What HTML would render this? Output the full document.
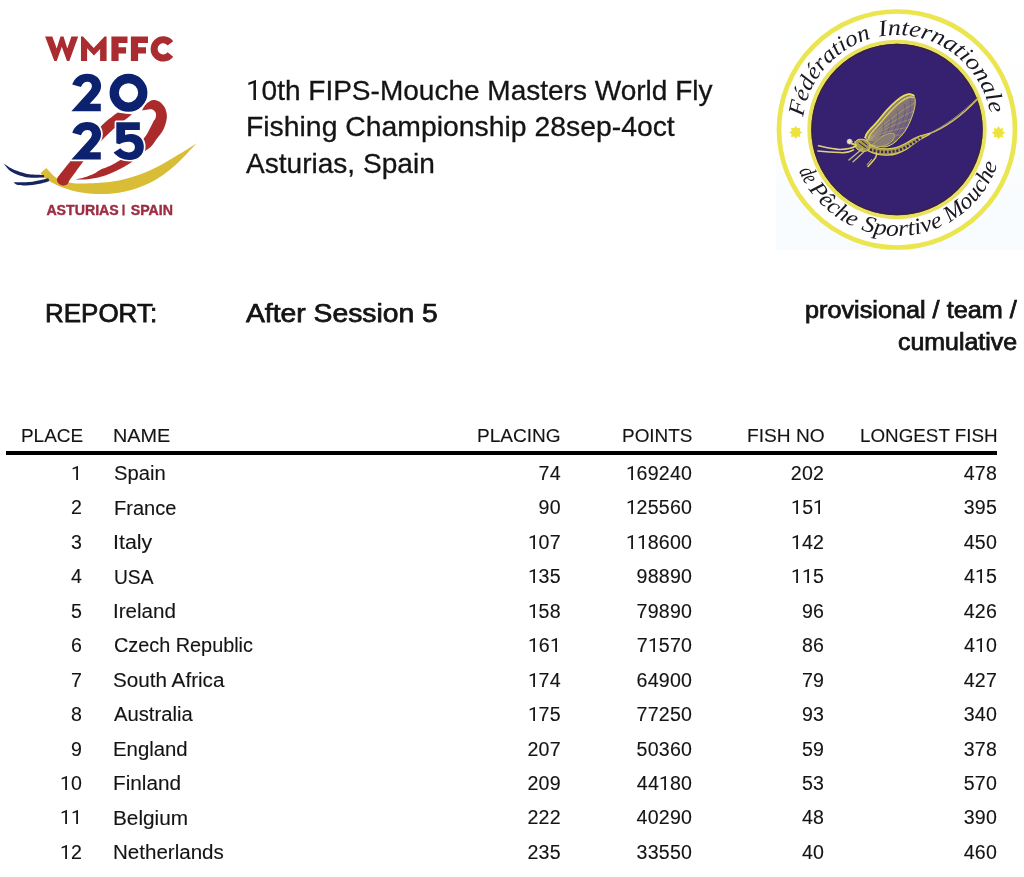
<!DOCTYPE html><html><head><meta charset="utf-8"><title>Report</title><style>
html,body{margin:0;padding:0;background:#fff;}
body{width:1024px;height:877px;overflow:hidden;position:relative;font-family:"Liberation Sans",sans-serif;color:#141414;}
.t{position:absolute;white-space:nowrap;line-height:1;transform-origin:0 0;}
.r{position:absolute;white-space:nowrap;line-height:1;text-align:right;letter-spacing:0.24px;margin-right:-0.24px;}
.m{-webkit-text-stroke:0.75px #141414;}
.b{-webkit-text-stroke:0.3px #141414;}
#txt{-webkit-text-stroke:0.12px #141414;}
.rule{position:absolute;left:6px;top:450.7px;width:991.2px;height:4.2px;background:#000;}
</style></head><body>
<svg width="1024" height="260" viewBox="0 0 1024 260" style="position:absolute;left:0;top:0;filter:blur(0.55px)">

<g fill="#aa2c30">
 <path d="M45.08 36.45 L52.25 36.45 L56.70 48.40 L60.46 36.45 L63.53 36.45 L67.29 48.40 L71.39 36.45 L78.23 36.45 L69.34 61.05 L66.95 61.05 L61.82 46.70 L56.70 61.05 L54.30 61.05 Z"/>
 <path d="M80.96 36.45 L83.01 36.45 L93.74 48.06 L104.54 36.45 L106.59 36.45 L106.59 61.05 L100.10 61.05 L100.10 48.88 L93.95 55.58 L87.11 48.20 L87.11 61.05 L80.96 61.05 Z"/>
 <path d="M111.4 36.45 H127.5 V43.1 H118.6 V47.2 H126.1 V53.5 H118.6 V61.05 H111.4 Z"/>
 <path d="M130.9 36.45 H148 V43.1 H138.1 V47.2 H146 V53.5 H138.1 V61.05 H130.9 Z"/>
 <path d="M170.4 43.3 A 9.1 9.1 0 1 0 170.4 54.5" fill="none" stroke="#aa2c30" stroke-width="7"/>
</g>
<path d="M46.30 168.00 C46.92 168.67 48.55 170.50 50.00 172.00 C51.45 173.50 53.08 175.63 55.00 177.00 C56.92 178.37 58.67 179.20 61.50 180.20 C64.33 181.20 68.58 182.43 72.00 183.00 C75.42 183.57 77.33 183.63 82.00 183.60 C86.67 183.57 94.92 183.13 100.00 182.80 C105.08 182.47 108.32 182.22 112.50 181.60 C116.68 180.98 120.92 180.15 125.10 179.10 C129.28 178.05 133.42 176.77 137.60 175.30 C141.78 173.83 146.02 172.18 150.20 170.30 C154.38 168.42 158.52 166.30 162.70 164.00 C166.88 161.70 171.12 159.00 175.30 156.50 C179.48 154.00 184.25 151.20 187.80 149.00 C191.35 146.80 195.13 144.25 196.60 143.30 C195.13 144.87 191.35 149.03 187.80 152.70 C184.25 156.37 179.48 161.53 175.30 165.30 C171.12 169.07 166.88 172.38 162.70 175.30 C158.52 178.22 154.38 180.70 150.20 182.80 C146.02 184.90 141.78 186.43 137.60 187.90 C133.42 189.37 129.28 190.67 125.10 191.60 C120.92 192.53 116.68 193.08 112.50 193.50 C108.32 193.92 104.58 194.18 100.00 194.10 C95.42 194.02 89.70 193.60 85.00 193.00 C80.30 192.40 75.97 191.58 71.80 190.50 C67.63 189.42 63.42 187.87 60.00 186.50 C56.58 185.13 53.80 183.72 51.30 182.30 C48.80 180.88 46.82 179.52 45.00 178.00 C43.18 176.48 41.17 174.00 40.40 173.20 C41.38 172.33 45.32 168.87 46.30 168.00 Z" fill="#dabd36"/>
<path d="M3.60 163.60 C4.67 164.28 7.67 166.48 10.00 167.70 C12.33 168.92 14.38 169.82 17.60 170.90 C20.82 171.98 24.92 173.53 29.30 174.20 C33.68 174.87 41.47 174.78 43.90 174.90 C43.98 175.35 44.32 177.15 44.40 177.60 C41.83 177.60 33.57 178.13 29.00 177.60 C24.43 177.07 20.28 175.63 17.00 174.40 C13.72 173.17 11.53 172.00 9.30 170.20 C7.07 168.40 4.55 164.70 3.60 163.60 Z" fill="#17245e"/>
<path d="M13.60 182.20 C16.22 182.18 24.73 182.45 29.30 182.10 C33.87 181.75 37.85 180.75 41.00 180.10 C44.15 179.45 47.00 178.52 48.20 178.20 C48.40 178.65 49.20 180.45 49.40 180.90 C48.05 181.32 44.62 182.68 41.30 183.40 C37.98 184.12 33.38 184.92 29.50 185.20 C25.62 185.48 20.65 185.60 18.00 185.10 C15.35 184.60 14.33 182.68 13.60 182.20 Z" fill="#17245e"/>
<path d="M58.00 176.80 C60.05 174.25 65.80 166.97 70.30 161.50 C74.80 156.03 79.72 150.05 85.00 144.00 C90.28 137.95 96.57 130.43 102.00 125.20 C107.43 119.97 115.00 114.70 117.60 112.60 C120.00 112.92 129.60 114.18 132.00 114.50 C129.50 116.42 121.92 121.82 117.00 126.00 C112.08 130.18 106.67 135.52 102.50 139.60 C98.33 143.68 95.22 146.85 92.00 150.50 C88.78 154.15 87.02 156.43 83.20 161.50 C79.38 166.57 71.45 177.67 69.10 180.90 C68.75 181.52 68.10 183.82 67.00 184.60 C65.90 185.38 63.90 185.77 62.50 185.60 C61.10 185.43 59.53 184.53 58.60 183.60 C57.67 182.67 57.00 181.13 56.90 180.00 C56.80 178.87 57.82 177.33 58.00 176.80 Z" fill="#ab2b2c"/>
<path d="M142.05 110.40 C142.51 109.60 143.78 106.97 144.80 105.60 C145.83 104.23 146.78 103.12 148.20 102.20 C149.62 101.28 151.42 100.18 153.30 100.10 C155.18 100.02 157.62 100.50 159.50 101.70 C161.38 102.90 163.37 105.00 164.60 107.30 C165.83 109.60 166.73 112.77 166.90 115.50 C167.07 118.23 166.32 121.13 165.60 123.70 C164.88 126.27 163.97 128.50 162.60 130.90 C161.23 133.30 159.28 135.53 157.40 138.10 C155.52 140.67 153.35 144.17 151.30 146.30 C149.25 148.43 146.77 149.75 145.10 150.90 C143.43 152.05 142.65 152.15 141.30 153.20 C139.95 154.25 138.38 155.93 137.00 157.20 C135.62 158.47 134.03 159.88 133.00 160.80 C131.97 161.72 132.88 161.37 130.80 162.70 C128.72 164.03 123.92 167.00 120.50 168.80 C117.08 170.60 113.72 172.12 110.30 173.50 C106.88 174.88 103.72 176.08 100.00 177.05 C96.28 178.02 92.07 178.89 88.00 179.30 C83.93 179.71 77.67 179.47 75.60 179.50 C77.17 179.13 81.97 178.25 85.00 177.30 C88.03 176.35 91.30 175.03 93.80 173.80 C96.30 172.57 97.25 171.23 100.00 169.90 C102.75 168.57 107.05 167.35 110.30 165.80 C113.55 164.25 116.55 162.40 119.50 160.60 C122.45 158.80 125.50 156.93 128.00 155.00 C130.50 153.07 132.50 150.92 134.50 149.00 C136.50 147.08 138.40 145.32 140.00 143.50 C141.60 141.68 142.73 140.03 144.10 138.10 C145.47 136.17 146.67 134.63 148.20 131.90 C149.73 129.17 152.10 123.92 153.30 121.70 C154.50 119.48 154.97 119.97 155.40 118.60 C155.83 117.23 156.25 114.95 155.90 113.50 C155.55 112.05 154.58 110.58 153.30 109.90 C152.02 109.22 150.07 109.32 148.20 109.40 C146.32 109.48 143.08 110.23 142.05 110.40 Z" fill="#ab2b2c"/>
<g fill="#0c226f" stroke="#ffffff" stroke-width="3.4" paint-order="stroke" stroke-linejoin="round">
 <path d="M71.4 111.2 L100.8 111.2 L100.8 103.85 L89.7 103.85 L96.8 95.9 C99.4 92.9 101.1 89.9 101.1 85.8 C101.1 78.6 95.3 73.75 87 73.75 C80 73.75 75 77.3 72.2 84.4 L81 86.9 C82.3 83.6 84.6 81.7 87.6 81.7 C90.1 81.7 91.9 83.4 91.9 86 C91.9 88.2 90.7 90 88.1 92.7 Z"/>
 <circle cx="128.5" cy="92.8" r="14.3" fill="none" stroke="#ffffff" stroke-width="12.7"/>
 <path d="M71.4 111.2 L100.8 111.2 L100.8 103.85 L89.7 103.85 L96.8 95.9 C99.4 92.9 101.1 89.9 101.1 85.8 C101.1 78.6 95.3 73.75 87 73.75 C80 73.75 75 77.3 72.2 84.4 L81 86.9 C82.3 83.6 84.6 81.7 87.6 81.7 C90.1 81.7 91.9 83.4 91.9 86 C91.9 88.2 90.7 90 88.1 92.7 Z" transform="translate(0,48.3)"/>
 <path d="M116.3 122.3 H139.85 V129.95 H125.1 V134.9 C127 134.3 129 134 131.3 134 C138.6 134 143.85 139.2 143.85 146.65 C143.85 154.5 138.2 159.9 129.6 159.9 C122.8 159.9 117.6 157 113.6 152.4 L120.4 148.3 C122.6 150.9 125.6 152.4 128.9 152.4 C132.5 152.4 134.9 150.3 134.9 147 C134.9 143.8 132.4 141.7 128.5 141.7 C125 141.7 121.6 142.8 119.5 144.3 L116.3 143.2 Z"/>
</g>
<circle cx="128.5" cy="92.8" r="14.3" fill="none" stroke="#0c226f" stroke-width="9.3"/>
<g font-family="Liberation Sans, sans-serif" font-weight="bold" font-size="14.1" fill="#9c2d42" stroke="#9c2d42" stroke-width="0.4">
<text x="46.4" y="215" textLength="72.4" lengthAdjust="spacingAndGlyphs">ASTURIAS</text>
<text x="130.7" y="215" textLength="42.2" lengthAdjust="spacingAndGlyphs">SPAIN</text>
<rect x="122.4" y="204.6" width="2.2" height="10.9" stroke="none"/>
</g>


<defs>
<linearGradient id="lg" x1="0" y1="0" x2="0" y2="1"><stop offset="0" stop-color="#ffffff"/><stop offset="0.45" stop-color="#fdfeff"/><stop offset="1" stop-color="#f7fbfe"/></linearGradient>
<linearGradient id="wg" x1="0.2" y1="0.1" x2="0.9" y2="0.8"><stop offset="0" stop-color="#c9ba52"/><stop offset="0.3" stop-color="#8f816f"/><stop offset="1" stop-color="#65568a"/></linearGradient>
<path id="tw0" d="M 803.35 116.84 A 94.5 94.5 0 0 1 870.95 38.66"/><path id="tw1" d="M 879.29 36.67 A 94.5 94.5 0 0 1 990.12 113.42"/><path id="bw0" d="M 798.75 170.60 A 106.5 106.5 0 0 0 806.10 184.99"/><path id="bw1" d="M 808.50 188.75 A 106.5 106.5 0 0 0 854.02 226.94"/><path id="bw2" d="M 860.75 229.64 A 106.5 106.5 0 0 0 943.69 225.22"/><path id="bw3" d="M 949.28 222.28 A 106.5 106.5 0 0 0 997.58 164.52"/>
</defs>
<rect x="776" y="6" width="248" height="243.5" fill="url(#lg)"/>
<circle cx="897.0" cy="129.5" r="118" fill="#ffffff"/>
<circle cx="897.0" cy="129.5" r="118" fill="none" stroke="#ebe550" stroke-width="4.7"/>
<circle cx="897.0" cy="129.5" r="89.7" fill="#e9e25a"/>
<circle cx="897.0" cy="129.5" r="85.7" fill="#362170"/><circle cx="897.0" cy="129.5" r="85.1" fill="none" stroke="#3b2433" stroke-width="1.3" opacity="0.85"/>
<g font-family="Liberation Serif, serif" font-style="italic" font-size="23" fill="#1a1820">
<text><textPath href="#tw0" textLength="109.4" lengthAdjust="spacingAndGlyphs">Fédération</textPath></text><text><textPath href="#tw1" textLength="150.1" lengthAdjust="spacingAndGlyphs">Internationale</textPath></text><text><textPath href="#bw0" textLength="16.2" lengthAdjust="spacingAndGlyphs">de</textPath></text><text><textPath href="#bw1" textLength="60.2" lengthAdjust="spacingAndGlyphs">Pêche</textPath></text><text><textPath href="#bw2" textLength="85.3" lengthAdjust="spacingAndGlyphs">Sportive</textPath></text><text><textPath href="#bw3" textLength="77.0" lengthAdjust="spacingAndGlyphs">Mouche</textPath></text>
</g>
<g fill="#ece43c">
 <path d="M795.70 125.80 L797.38 128.33 L800.37 127.73 L799.77 130.72 L802.30 132.40 L799.77 134.08 L800.37 137.07 L797.38 136.47 L795.70 139.00 L794.02 136.47 L791.03 137.07 L791.63 134.08 L789.10 132.40 L791.63 130.72 L791.03 127.73 L794.02 128.33 Z"/>
 <path d="M998.50 126.10 L1000.18 128.63 L1003.17 128.03 L1002.57 131.02 L1005.10 132.70 L1002.57 134.38 L1003.17 137.37 L1000.18 136.77 L998.50 139.30 L996.82 136.77 L993.83 137.37 L994.43 134.38 L991.90 132.70 L994.43 131.02 L993.83 128.03 L996.82 128.63 Z"/>
</g>
<g fill="none" stroke="#dccf5c" stroke-linecap="round" stroke-linejoin="round">
 <path d="M865.20 137.50 C865.67 136.57 865.97 134.55 868.00 131.90 C870.03 129.25 874.28 125.18 877.40 121.60 C880.52 118.02 883.58 113.82 886.70 110.40 C889.82 106.98 893.28 103.52 896.10 101.10 C898.92 98.68 901.42 97.07 903.60 95.90 C905.78 94.73 907.50 94.17 909.20 94.10 C910.90 94.03 913.03 95.27 913.80 95.50 C914.03 96.27 915.03 98.23 915.20 100.10 C915.37 101.97 915.18 104.35 914.80 106.70 C914.42 109.05 913.83 111.40 912.90 114.20 C911.97 117.00 910.60 120.55 909.20 123.50 C907.80 126.45 906.38 129.25 904.50 131.90 C902.62 134.55 899.93 137.37 897.90 139.40 C895.87 141.43 894.47 142.85 892.30 144.10 C890.13 145.35 887.38 146.60 884.90 146.90 C882.42 147.20 879.90 146.37 877.40 145.90 C874.90 145.43 871.93 145.50 869.90 144.10 C867.87 142.70 865.98 138.60 865.20 137.50 Z" fill="url(#wg)" stroke-width="1"/>
 <g stroke="#cfc27a" stroke-width="0.55" opacity="0.75"><path d="M867 140 Q888.2 118.5 914.5 103"/><path d="M867 140 Q887.8 122.5 913.5 111"/><path d="M867 140 Q886.5 126.5 911 119"/><path d="M867 140 Q884.5 130.8 907 127.5"/><path d="M867 140 Q882.0 134.5 902 135"/><path d="M867 140 Q879.0 137.5 896 141"/><path d="M867 140 Q875.5 139.8 889 145.5"/></g>
 <g stroke="#4a3a78" stroke-width="0.5" opacity="0.7"><path d="M883.4 124.4 L883.6 127.0 L883.3 129.8 L882.4 132.7 L881.0 135.6 L879.2 138.2 L877.1 140.3 L874.7 141.9"/><path d="M890.4 117.8 L890.8 121.5 L890.2 125.5 L889.0 129.5 L887.0 133.8 L884.5 137.5 L881.5 140.5 L878.0 142.8"/><path d="M897.4 111.1 L897.9 116.0 L897.2 121.2 L895.6 126.3 L893.0 131.9 L889.8 136.8 L885.9 140.7 L881.3 143.6"/><path d="M904.4 104.4 L905.0 110.4 L904.2 116.8 L902.2 123.2 L899.0 130.0 L895.0 136.0 L890.2 140.8 L884.6 144.4"/><path d="M910.1 99.1 L910.7 106.0 L909.8 113.3 L907.5 120.7 L903.8 128.5 L899.2 135.4 L893.7 140.9 L887.2 145.1"/></g>
 <path d="M872.00 145.00 C873.00 144.08 875.67 141.25 878.00 139.50 C880.33 137.75 883.50 135.53 886.00 134.50 C888.50 133.47 891.50 133.05 893.00 133.30 C894.50 133.55 894.67 135.55 895.00 136.00 C894.50 136.83 893.50 139.50 892.00 141.00 C890.50 142.50 888.17 144.08 886.00 145.00 C883.83 145.92 881.33 146.50 879.00 146.50 C876.67 146.50 873.17 145.25 872.00 145.00 Z" fill="#8a7c76" stroke="#c9bb6a" stroke-width="0.7"/>
 <path d="M868.5 138 C868.92 137.25 869.08 135.92 871.00 133.50 C872.92 131.08 877.00 126.92 880.00 123.50 C883.00 120.08 886.00 116.25 889.00 113.00 C892.00 109.75 895.33 106.33 898.00 104.00 C900.67 101.67 903.00 100.17 905.00 99.00 C907.00 97.83 908.63 97.25 910.00 97.00 C911.37 96.75 912.67 97.42 913.20 97.50" stroke="#e2d65a" stroke-width="1.5" opacity="0.9"/>
 <path d="M865.2 137.5 C865.67 136.57 865.97 134.55 868.00 131.90 C870.03 129.25 874.28 125.18 877.40 121.60 C880.52 118.02 883.58 113.82 886.70 110.40 C889.82 106.98 893.28 103.52 896.10 101.10 C898.92 98.68 901.42 97.07 903.60 95.90 C905.78 94.73 907.50 94.17 909.20 94.10 C910.90 94.03 913.03 95.27 913.80 95.50" stroke="#e6db58" stroke-width="1.8"/>
 <!-- tails -->
 <path d="M928 134.2 C942 129 958 119.5 977.3 99.2" stroke-width="1.5" stroke="#cfc265"/>
 <path d="M928 134 C944 127 961 114 978 97.5" stroke-width="0.9" stroke="#a99a70"/>
 <!-- abdomen -->
 <path d="M866.00 144.50 C867.00 144.75 869.67 145.38 872.00 146.00 C874.33 146.62 877.33 147.73 880.00 148.20 C882.67 148.67 885.33 148.90 888.00 148.80 C890.67 148.70 893.17 148.43 896.00 147.60 C898.83 146.77 902.17 145.23 905.00 143.80 C907.83 142.37 910.43 140.33 913.00 139.00 C915.57 137.67 917.62 136.75 920.40 135.80 C923.18 134.85 928.15 133.72 929.70 133.30 C929.70 133.47 929.70 134.13 929.70 134.30 C928.25 135.08 923.62 137.42 921.00 139.00 C918.38 140.58 916.50 142.03 914.00 143.80 C911.50 145.57 908.83 147.97 906.00 149.60 C903.17 151.23 900.17 152.67 897.00 153.60 C893.83 154.53 890.33 155.10 887.00 155.20 C883.67 155.30 880.00 154.85 877.00 154.20 C874.00 153.55 871.17 152.42 869.00 151.30 C866.83 150.18 864.83 148.13 864.00 147.50 C864.33 147.00 865.67 145.00 866.00 144.50 Z" fill="#a99a4e" stroke="#dccf5a" stroke-width="1.1"/>
 <path d="M870 149.5 C878 152.3 888 152.8 897 150.8 C906 148 913 143 921 137.6" stroke="#33235e" stroke-width="2.6" stroke-dasharray="2.1 1.7" stroke-linecap="butt"/>
 <!-- thorax & head -->
 <path d="M855.00 142.00 C855.50 141.60 856.67 140.05 858.00 139.60 C859.33 139.15 861.33 138.98 863.00 139.30 C864.67 139.62 866.83 140.47 868.00 141.50 C869.17 142.53 869.92 144.12 870.00 145.50 C870.08 146.88 869.50 148.80 868.50 149.80 C867.50 150.80 865.58 151.42 864.00 151.50 C862.42 151.58 860.42 151.05 859.00 150.30 C857.58 149.55 856.17 148.38 855.50 147.00 C854.83 145.62 855.08 142.83 855.00 142.00 Z" fill="#a59a52" stroke="#dccf5c" stroke-width="1"/>
 <path d="M859 143 L866 148 M862 141 L867 145" stroke="#2c1d5e" stroke-width="1"/>
 <circle cx="849.6" cy="141.6" r="2.5" fill="#e9e3c0" stroke="#d9cc5a" stroke-width="0.8"/>
 <path d="M851.5 143.5 L856 145" stroke-width="2"/>
 <!-- legs -->
 <path d="M856 146 C852 148.2 846 149.3 840 149.5 C832 149.2 826 147.5 818.5 145.8" stroke-width="1.5" stroke="#ddd27a"/>
 <path d="M853.5 149.8 C849 152.5 845 153 840 152.6 C832 152.3 826 151.8 817.8 150.9" stroke-width="1.5" stroke="#ddd27a"/>
 <path d="M862.4 148.7 L848.9 160" stroke-width="1.3" stroke="#c9bc78"/>
 <path d="M863.6 152 L853.1 161.8" stroke-width="1.3" stroke="#c9bc78"/>
 <path d="M876.4 153 C877.3 156 876 158 868 166.5" stroke-width="1.6"/>
 <path d="M871.5 159.5 L867 164.8" stroke-width="1" stroke="#c9bc78"/>
</g>

</svg>
<div id="txt" style="position:absolute;left:0;top:0;width:1024px;height:877px;filter:blur(0.4px)">
<div class="t b" style="left:245.84px;top:76.58px;font-size:27.9px;transform:scaleX(1.0044)"><svg style="width:0.556em;height:0.716em;vertical-align:baseline;overflow:visible" viewBox="0 0 1139 1463" preserveAspectRatio="none"><path fill="currentColor" d="M729 1463H543V230L170 367V199L700 0H729Z"/></svg>0th FIPS-Mouche Masters World Fly</div>
<div class="t b" style="left:246.21px;top:112.58px;font-size:27.9px;transform:scaleX(1.0167)">Fishing Championship 28sep-4oct</div>
<div class="t b" style="left:246.25px;top:149.58px;font-size:27.9px;transform:scaleX(1.0062)">Asturias, Spain</div>
<div class="t m" style="left:45.17px;top:300.73px;font-size:25.6px;transform:scaleX(1.0150)">REPORT:</div>
<div class="t m" style="left:246.45px;top:300.96px;font-size:25.8px;transform:scaleX(1.0967)">After Session 5</div>
<div class="t m" style="left:804.63px;top:299.23px;font-size:23px;transform:scaleX(1.0969)">provisional / team /</div>
<div class="t m" style="left:898.19px;top:330.53px;font-size:23px;transform:scaleX(1.0839)">cumulative</div>
<div class="t " style="left:20.51px;top:425.52px;font-size:19px;transform:scaleX(0.9958)">PLACE</div>
<div class="t " style="left:113.43px;top:425.52px;font-size:19px;transform:scaleX(1.0429)">NAME</div>
<div class="t " style="left:476.75px;top:425.52px;font-size:19px;transform:scaleX(1.0031)">PLACING</div>
<div class="t " style="left:621.76px;top:425.52px;font-size:19px;transform:scaleX(0.9963)">POINTS</div>
<div class="t " style="left:746.99px;top:425.52px;font-size:19px;transform:scaleX(1.0080)">FISH NO</div>
<div class="t " style="left:859.52px;top:425.52px;font-size:19px;transform:scaleX(0.9897)">LONGEST FISH</div>
<div class="t " style="left:114.01px;top:464.18px;font-size:19.4px;transform:scaleX(1.0413)">Spain</div>
<div class="t " style="left:113.50px;top:498.62px;font-size:19.4px;transform:scaleX(1.0353)">France</div>
<div class="t " style="left:113.12px;top:533.06px;font-size:19.4px;transform:scaleX(1.1030)">Italy</div>
<div class="t " style="left:113.57px;top:567.50px;font-size:19.4px;transform:scaleX(0.9895)">USA</div>
<div class="t " style="left:112.69px;top:601.94px;font-size:19.4px;transform:scaleX(1.0613)">Ireland</div>
<div class="t " style="left:114.03px;top:636.38px;font-size:19.4px;transform:scaleX(1.0231)">Czech Republic</div>
<div class="t " style="left:113.48px;top:670.82px;font-size:19.4px;transform:scaleX(1.0657)">South Africa</div>
<div class="t " style="left:114.29px;top:705.26px;font-size:19.4px;transform:scaleX(1.0427)">Australia</div>
<div class="t " style="left:112.97px;top:739.70px;font-size:19.4px;transform:scaleX(1.0491)">England</div>
<div class="t " style="left:112.94px;top:774.14px;font-size:19.4px;transform:scaleX(1.0691)">Finland</div>
<div class="t " style="left:112.94px;top:808.58px;font-size:19.4px;transform:scaleX(1.0714)">Belgium</div>
<div class="t " style="left:112.96px;top:843.02px;font-size:19.4px;transform:scaleX(1.0597)">Netherlands</div>
<div class="rule"></div>
<div class="r" style="right:942.10px;top:464.01px;font-size:19.6px"><svg style="width:0.556em;height:0.716em;vertical-align:baseline;overflow:visible" viewBox="0 0 1139 1463" preserveAspectRatio="none"><path fill="currentColor" d="M729 1463H543V230L170 367V199L700 0H729Z"/></svg></div>
<div class="r" style="right:463.40px;top:464.01px;font-size:19.6px">74</div>
<div class="r" style="right:332.00px;top:464.01px;font-size:19.6px"><svg style="width:0.556em;height:0.716em;vertical-align:baseline;overflow:visible" viewBox="0 0 1139 1463" preserveAspectRatio="none"><path fill="currentColor" d="M729 1463H543V230L170 367V199L700 0H729Z"/></svg>69240</div>
<div class="r" style="right:200.00px;top:464.01px;font-size:19.6px">202</div>
<div class="r" style="right:27.10px;top:464.01px;font-size:19.6px">478</div>
<div class="r" style="right:942.10px;top:498.45px;font-size:19.6px">2</div>
<div class="r" style="right:463.40px;top:498.45px;font-size:19.6px">90</div>
<div class="r" style="right:332.00px;top:498.45px;font-size:19.6px"><svg style="width:0.556em;height:0.716em;vertical-align:baseline;overflow:visible" viewBox="0 0 1139 1463" preserveAspectRatio="none"><path fill="currentColor" d="M729 1463H543V230L170 367V199L700 0H729Z"/></svg>25560</div>
<div class="r" style="right:200.00px;top:498.45px;font-size:19.6px"><svg style="width:0.556em;height:0.716em;vertical-align:baseline;overflow:visible" viewBox="0 0 1139 1463" preserveAspectRatio="none"><path fill="currentColor" d="M729 1463H543V230L170 367V199L700 0H729Z"/></svg>5<svg style="width:0.556em;height:0.716em;vertical-align:baseline;overflow:visible" viewBox="0 0 1139 1463" preserveAspectRatio="none"><path fill="currentColor" d="M729 1463H543V230L170 367V199L700 0H729Z"/></svg></div>
<div class="r" style="right:27.10px;top:498.45px;font-size:19.6px">395</div>
<div class="r" style="right:942.10px;top:532.89px;font-size:19.6px">3</div>
<div class="r" style="right:463.40px;top:532.89px;font-size:19.6px"><svg style="width:0.556em;height:0.716em;vertical-align:baseline;overflow:visible" viewBox="0 0 1139 1463" preserveAspectRatio="none"><path fill="currentColor" d="M729 1463H543V230L170 367V199L700 0H729Z"/></svg>07</div>
<div class="r" style="right:332.00px;top:532.89px;font-size:19.6px"><svg style="width:0.556em;height:0.716em;vertical-align:baseline;overflow:visible" viewBox="0 0 1139 1463" preserveAspectRatio="none"><path fill="currentColor" d="M729 1463H543V230L170 367V199L700 0H729Z"/></svg><svg style="width:0.556em;height:0.716em;vertical-align:baseline;overflow:visible" viewBox="0 0 1139 1463" preserveAspectRatio="none"><path fill="currentColor" d="M729 1463H543V230L170 367V199L700 0H729Z"/></svg>8600</div>
<div class="r" style="right:200.00px;top:532.89px;font-size:19.6px"><svg style="width:0.556em;height:0.716em;vertical-align:baseline;overflow:visible" viewBox="0 0 1139 1463" preserveAspectRatio="none"><path fill="currentColor" d="M729 1463H543V230L170 367V199L700 0H729Z"/></svg>42</div>
<div class="r" style="right:27.10px;top:532.89px;font-size:19.6px">450</div>
<div class="r" style="right:942.10px;top:567.33px;font-size:19.6px">4</div>
<div class="r" style="right:463.40px;top:567.33px;font-size:19.6px"><svg style="width:0.556em;height:0.716em;vertical-align:baseline;overflow:visible" viewBox="0 0 1139 1463" preserveAspectRatio="none"><path fill="currentColor" d="M729 1463H543V230L170 367V199L700 0H729Z"/></svg>35</div>
<div class="r" style="right:332.00px;top:567.33px;font-size:19.6px">98890</div>
<div class="r" style="right:200.00px;top:567.33px;font-size:19.6px"><svg style="width:0.556em;height:0.716em;vertical-align:baseline;overflow:visible" viewBox="0 0 1139 1463" preserveAspectRatio="none"><path fill="currentColor" d="M729 1463H543V230L170 367V199L700 0H729Z"/></svg><svg style="width:0.556em;height:0.716em;vertical-align:baseline;overflow:visible" viewBox="0 0 1139 1463" preserveAspectRatio="none"><path fill="currentColor" d="M729 1463H543V230L170 367V199L700 0H729Z"/></svg>5</div>
<div class="r" style="right:27.10px;top:567.33px;font-size:19.6px">4<svg style="width:0.556em;height:0.716em;vertical-align:baseline;overflow:visible" viewBox="0 0 1139 1463" preserveAspectRatio="none"><path fill="currentColor" d="M729 1463H543V230L170 367V199L700 0H729Z"/></svg>5</div>
<div class="r" style="right:942.10px;top:601.77px;font-size:19.6px">5</div>
<div class="r" style="right:463.40px;top:601.77px;font-size:19.6px"><svg style="width:0.556em;height:0.716em;vertical-align:baseline;overflow:visible" viewBox="0 0 1139 1463" preserveAspectRatio="none"><path fill="currentColor" d="M729 1463H543V230L170 367V199L700 0H729Z"/></svg>58</div>
<div class="r" style="right:332.00px;top:601.77px;font-size:19.6px">79890</div>
<div class="r" style="right:200.00px;top:601.77px;font-size:19.6px">96</div>
<div class="r" style="right:27.10px;top:601.77px;font-size:19.6px">426</div>
<div class="r" style="right:942.10px;top:636.21px;font-size:19.6px">6</div>
<div class="r" style="right:463.40px;top:636.21px;font-size:19.6px"><svg style="width:0.556em;height:0.716em;vertical-align:baseline;overflow:visible" viewBox="0 0 1139 1463" preserveAspectRatio="none"><path fill="currentColor" d="M729 1463H543V230L170 367V199L700 0H729Z"/></svg>6<svg style="width:0.556em;height:0.716em;vertical-align:baseline;overflow:visible" viewBox="0 0 1139 1463" preserveAspectRatio="none"><path fill="currentColor" d="M729 1463H543V230L170 367V199L700 0H729Z"/></svg></div>
<div class="r" style="right:332.00px;top:636.21px;font-size:19.6px">7<svg style="width:0.556em;height:0.716em;vertical-align:baseline;overflow:visible" viewBox="0 0 1139 1463" preserveAspectRatio="none"><path fill="currentColor" d="M729 1463H543V230L170 367V199L700 0H729Z"/></svg>570</div>
<div class="r" style="right:200.00px;top:636.21px;font-size:19.6px">86</div>
<div class="r" style="right:27.10px;top:636.21px;font-size:19.6px">4<svg style="width:0.556em;height:0.716em;vertical-align:baseline;overflow:visible" viewBox="0 0 1139 1463" preserveAspectRatio="none"><path fill="currentColor" d="M729 1463H543V230L170 367V199L700 0H729Z"/></svg>0</div>
<div class="r" style="right:942.10px;top:670.65px;font-size:19.6px">7</div>
<div class="r" style="right:463.40px;top:670.65px;font-size:19.6px"><svg style="width:0.556em;height:0.716em;vertical-align:baseline;overflow:visible" viewBox="0 0 1139 1463" preserveAspectRatio="none"><path fill="currentColor" d="M729 1463H543V230L170 367V199L700 0H729Z"/></svg>74</div>
<div class="r" style="right:332.00px;top:670.65px;font-size:19.6px">64900</div>
<div class="r" style="right:200.00px;top:670.65px;font-size:19.6px">79</div>
<div class="r" style="right:27.10px;top:670.65px;font-size:19.6px">427</div>
<div class="r" style="right:942.10px;top:705.09px;font-size:19.6px">8</div>
<div class="r" style="right:463.40px;top:705.09px;font-size:19.6px"><svg style="width:0.556em;height:0.716em;vertical-align:baseline;overflow:visible" viewBox="0 0 1139 1463" preserveAspectRatio="none"><path fill="currentColor" d="M729 1463H543V230L170 367V199L700 0H729Z"/></svg>75</div>
<div class="r" style="right:332.00px;top:705.09px;font-size:19.6px">77250</div>
<div class="r" style="right:200.00px;top:705.09px;font-size:19.6px">93</div>
<div class="r" style="right:27.10px;top:705.09px;font-size:19.6px">340</div>
<div class="r" style="right:942.10px;top:739.53px;font-size:19.6px">9</div>
<div class="r" style="right:463.40px;top:739.53px;font-size:19.6px">207</div>
<div class="r" style="right:332.00px;top:739.53px;font-size:19.6px">50360</div>
<div class="r" style="right:200.00px;top:739.53px;font-size:19.6px">59</div>
<div class="r" style="right:27.10px;top:739.53px;font-size:19.6px">378</div>
<div class="r" style="right:942.10px;top:773.97px;font-size:19.6px"><svg style="width:0.556em;height:0.716em;vertical-align:baseline;overflow:visible" viewBox="0 0 1139 1463" preserveAspectRatio="none"><path fill="currentColor" d="M729 1463H543V230L170 367V199L700 0H729Z"/></svg>0</div>
<div class="r" style="right:463.40px;top:773.97px;font-size:19.6px">209</div>
<div class="r" style="right:332.00px;top:773.97px;font-size:19.6px">44<svg style="width:0.556em;height:0.716em;vertical-align:baseline;overflow:visible" viewBox="0 0 1139 1463" preserveAspectRatio="none"><path fill="currentColor" d="M729 1463H543V230L170 367V199L700 0H729Z"/></svg>80</div>
<div class="r" style="right:200.00px;top:773.97px;font-size:19.6px">53</div>
<div class="r" style="right:27.10px;top:773.97px;font-size:19.6px">570</div>
<div class="r" style="right:942.10px;top:808.41px;font-size:19.6px"><svg style="width:0.556em;height:0.716em;vertical-align:baseline;overflow:visible" viewBox="0 0 1139 1463" preserveAspectRatio="none"><path fill="currentColor" d="M729 1463H543V230L170 367V199L700 0H729Z"/></svg><svg style="width:0.556em;height:0.716em;vertical-align:baseline;overflow:visible" viewBox="0 0 1139 1463" preserveAspectRatio="none"><path fill="currentColor" d="M729 1463H543V230L170 367V199L700 0H729Z"/></svg></div>
<div class="r" style="right:463.40px;top:808.41px;font-size:19.6px">222</div>
<div class="r" style="right:332.00px;top:808.41px;font-size:19.6px">40290</div>
<div class="r" style="right:200.00px;top:808.41px;font-size:19.6px">48</div>
<div class="r" style="right:27.10px;top:808.41px;font-size:19.6px">390</div>
<div class="r" style="right:942.10px;top:842.85px;font-size:19.6px"><svg style="width:0.556em;height:0.716em;vertical-align:baseline;overflow:visible" viewBox="0 0 1139 1463" preserveAspectRatio="none"><path fill="currentColor" d="M729 1463H543V230L170 367V199L700 0H729Z"/></svg>2</div>
<div class="r" style="right:463.40px;top:842.85px;font-size:19.6px">235</div>
<div class="r" style="right:332.00px;top:842.85px;font-size:19.6px">33550</div>
<div class="r" style="right:200.00px;top:842.85px;font-size:19.6px">40</div>
<div class="r" style="right:27.10px;top:842.85px;font-size:19.6px">460</div>
</div>
</body></html>
